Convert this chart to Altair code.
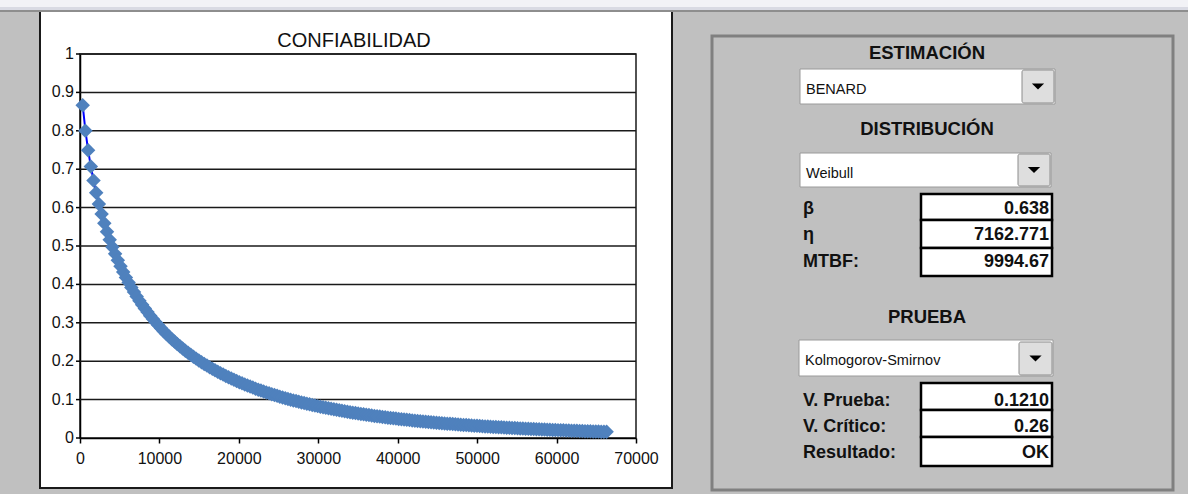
import altair as alt
import pandas as pd

# ---------------- data ----------------
hours = [340, 680, 1020, 1360, 1700, 2040, 2380, 2720, 3060, 3400,
         3740, 4080, 4420, 4760, 5100, 5440, 5780, 6120, 6460, 6800,
         7140, 7480, 7820, 8160, 8500, 8840, 9180, 9520, 9860, 10200,
         10540, 10880, 11220, 11560, 11900, 12240, 12580, 12920, 13260, 13600,
         13940, 14280, 14620, 14960, 15300, 15640, 15980, 16320, 16660, 17000,
         17340, 17680, 18020, 18360, 18700, 19040, 19380, 19720, 20060, 20400,
         20740, 21080, 21420, 21760, 22100, 22440, 22780, 23120, 23460, 23800,
         24140, 24480, 24820, 25160, 25500, 25840, 26180, 26520, 26860, 27200,
         27540, 27880, 28220, 28560, 28900, 29240, 29580, 29920, 30260, 30600,
         30940, 31280, 31620, 31960, 32300, 32640, 32980, 33320, 33660, 34000,
         34340, 34680, 35020, 35360, 35700, 36040, 36380, 36720, 37060, 37400,
         37740, 38080, 38420, 38760, 39100, 39440, 39780, 40120, 40460, 40800,
         41140, 41480, 41820, 42160, 42500, 42840, 43180, 43520, 43860, 44200,
         44540, 44880, 45220, 45560, 45900, 46240, 46580, 46920, 47260, 47600,
         47940, 48280, 48620, 48960, 49300, 49640, 49980, 50320, 50660, 51000,
         51340, 51680, 52020, 52360, 52700, 53040, 53380, 53720, 54060, 54400,
         54740, 55080, 55420, 55760, 56100, 56440, 56780, 57120, 57460, 57800,
         58140, 58480, 58820, 59160, 59500, 59840, 60180, 60520, 60860, 61200,
         61540, 61880, 62220, 62560, 62900, 63240, 63580, 63920, 64260, 64600,
         64940, 65280, 65620, 65960, 66300]
reliability = [0.8667, 0.8004, 0.7495, 0.7072, 0.6707, 0.6384, 0.6095, 0.5832, 0.5592, 0.5370,
               0.5165, 0.4974, 0.4795, 0.4628, 0.4470, 0.4321, 0.4181, 0.4047, 0.3921, 0.3801,
               0.3686, 0.3577, 0.3473, 0.3373, 0.3278, 0.3186, 0.3099, 0.3015, 0.2934, 0.2857,
               0.2782, 0.2710, 0.2641, 0.2574, 0.2510, 0.2447, 0.2388, 0.2329, 0.2274, 0.2219,
               0.2167, 0.2116, 0.2067, 0.2019, 0.1973, 0.1928, 0.1885, 0.1843, 0.1802, 0.1763,
               0.1724, 0.1687, 0.1651, 0.1615, 0.1581, 0.1548, 0.1515, 0.1484, 0.1453, 0.1423,
               0.1395, 0.1366, 0.1338, 0.1312, 0.1285, 0.1259, 0.1235, 0.1210, 0.1186, 0.1164,
               0.1141, 0.1119, 0.1098, 0.1077, 0.1056, 0.1036, 0.1017, 0.0997, 0.0979, 0.0961,
               0.0943, 0.0926, 0.0909, 0.0892, 0.0876, 0.0861, 0.0845, 0.0830, 0.0815, 0.0800,
               0.0786, 0.0773, 0.0759, 0.0746, 0.0733, 0.0720, 0.0708, 0.0695, 0.0683, 0.0672,
               0.0660, 0.0649, 0.0638, 0.0627, 0.0616, 0.0606, 0.0596, 0.0586, 0.0576, 0.0567,
               0.0557, 0.0548, 0.0539, 0.0530, 0.0522, 0.0513, 0.0505, 0.0497, 0.0489, 0.0481,
               0.0473, 0.0466, 0.0458, 0.0451, 0.0444, 0.0437, 0.0430, 0.0424, 0.0417, 0.0411,
               0.0404, 0.0398, 0.0392, 0.0386, 0.0380, 0.0374, 0.0368, 0.0362, 0.0357, 0.0351,
               0.0346, 0.0341, 0.0336, 0.0331, 0.0326, 0.0321, 0.0316, 0.0311, 0.0307, 0.0302,
               0.0298, 0.0293, 0.0289, 0.0285, 0.0281, 0.0277, 0.0273, 0.0269, 0.0265, 0.0261,
               0.0258, 0.0254, 0.0250, 0.0247, 0.0243, 0.0240, 0.0236, 0.0233, 0.0230, 0.0226,
               0.0223, 0.0220, 0.0217, 0.0214, 0.0211, 0.0208, 0.0205, 0.0202, 0.0199, 0.0196,
               0.0193, 0.0191, 0.0188, 0.0186, 0.0183, 0.0181, 0.0178, 0.0176, 0.0173, 0.0171,
               0.0169, 0.0167, 0.0165, 0.0162, 0.0160]
x_ticks = [0, 10000, 20000, 30000, 40000, 50000, 60000, 70000]
y_ticks = [0, 0.1, 0.2, 0.3, 0.4, 0.5, 0.6, 0.7, 0.8, 0.9, 1.0]
y_tick_labels = ["0", "0.1", "0.2", "0.3", "0.4", "0.5", "0.6", "0.7", "0.8", "0.9", "1"]
chart_title = "CONFIABILIDAD"

section_titles = ["ESTIMACIÓN", "DISTRIBUCIÓN", "PRUEBA"]
dropdown_values = ["BENARD", "Weibull", "Kolmogorov-Smirnov"]
param_labels = ["β", "η", "MTBF:"]
param_values = ["0.638", "7162.771", "9994.67"]
test_labels = ["V. Prueba:", "V. Crítico:", "Resultado:"]
test_values = ["0.1210", "0.26", "OK"]

# ---------------- layout (page pixels) ----------------
W, H = 1188, 494
PL, PT, PW, PH = 80, 54, 556, 384
FONT = "Liberation Sans"
INK = "#111111"


def px(x):
    return x - PL


def py(y):
    return y - PT


one = pd.DataFrame({"k": [0]})


def box(x1, y1, x2, y2, **kw):
    return alt.Chart(one).mark_rect(**kw).encode(
        x=alt.value(px(x1)), x2=alt.value(px(x2)),
        y=alt.value(py(y1)), y2=alt.value(py(y2)))


def label(text, x, y, **kw):
    return alt.Chart(pd.DataFrame({"t": [text]})).mark_text(
        font=FONT, color=INK, baseline="alphabetic", **kw).encode(
        x=alt.value(px(x)), y=alt.value(py(y)), text="t:N")


# ---------------- main chart ----------------
df = pd.DataFrame({"hours": hours, "R": reliability})
ytick_df = pd.DataFrame({"v": y_ticks, "lab": y_tick_labels})
grid_df = pd.DataFrame({"g": y_ticks[1:]})

xscale = alt.Scale(domain=[0, 70000], nice=False, zero=False)
yscale = alt.Scale(domain=[0, 1], nice=False)

xenc = alt.X("hours:Q", scale=xscale,
             axis=alt.Axis(values=x_ticks, format="d", grid=False, title=None,
                           tickSize=5, labelPadding=7, labelFlush=False,
                           labelOverlap=False))
yenc = alt.Y("R:Q", scale=yscale,
             axis=alt.Axis(grid=False, title=None, ticks=False, labels=False))

gridlines = alt.Chart(grid_df).mark_rule(color="#1a1a1a", strokeWidth=1.5).encode(
    y=alt.Y("g:Q", scale=yscale), x=alt.value(0), x2=alt.value(PW))
yticks = alt.Chart(ytick_df).mark_rule(color="#000000", strokeWidth=1.5).encode(
    y=alt.Y("v:Q", scale=yscale), x=alt.value(-4), x2=alt.value(0))
ylabels = alt.Chart(ytick_df).mark_text(
    font=FONT, fontSize=16, color=INK, align="right", baseline="middle").encode(
    y=alt.Y("v:Q", scale=yscale), x=alt.value(-6), text="lab:N")

line = alt.Chart(df).mark_line(color="#0000ff", strokeWidth=2).encode(x=xenc, y=yenc)
pts = alt.Chart(df).mark_point(shape="diamond", filled=True, color="#4f81bd",
                               size=210, opacity=1).encode(x="hours:Q", y="R:Q")

layers = [line, gridlines, yticks, ylabels, pts]

# surrounding sheet: gray areas around white chart box
GRAY = "#c0c0c0"
layers += [
    box(0, 11, 40, H, fill=GRAY),
    box(672, 11, W, H, fill=GRAY),
    box(40, 488, 672, H, fill=GRAY),
    box(40, 11, 672, 488, fillOpacity=0, stroke="#1a1a1a", strokeWidth=2),
    box(0, 0, W, 7, fill="#f2f2f6"),
    box(0, 7, W, 10, fill="#d9dae3"),
    box(0, 10, W, 12, fill="#8e8e8e"),
]

layers.append(label(chart_title, 354, 47, align="center", fontSize=20))

# ---------------- right panel ----------------
layers.append(box(712, 36, 1173, 490, fillOpacity=0, stroke="#808080", strokeWidth=3))

title_baselines = [59, 135, 323]
for t, yb in zip(section_titles, title_baselines):
    layers.append(label(t, 927, yb, align="center", fontSize=18.5, fontWeight="bold"))

dd_boxes = [(800, 69, 1055, 104), (800, 153, 1051, 187), (799, 340, 1053, 376)]
dd_buttons = [(1022, 70, 1054, 103), (1018, 154, 1050, 186), (1019, 342, 1052, 375)]
dd_text_y = [94, 178, 365]
for v, b, bt, yb in zip(dropdown_values, dd_boxes, dd_buttons, dd_text_y):
    layers.append(box(*b, fill="white", stroke="#9a9a9a", strokeWidth=1))
    layers.append(box(*bt, fill="#dedede", stroke="#8c8c8c", strokeWidth=1,
                      cornerRadius=2))
    cx = (bt[0] + bt[2]) / 2
    cy = (bt[1] + bt[3]) / 2
    layers.append(alt.Chart(one).mark_point(
        shape="M-1,-0.5L1,-0.5L0,0.5Z", filled=True, color="#000000",
        size=150, opacity=1).encode(x=alt.value(px(cx)), y=alt.value(py(cy))))
    layers.append(label(v, b[0] + 6, yb, align="left", fontSize=14.5))

param_boxes = [(921, 194, 1052, 220), (921, 220, 1052, 248), (921, 248, 1052, 276)]
param_y = [214, 240, 267]
for lab, val, b, yb in zip(param_labels, param_values, param_boxes, param_y):
    layers.append(box(*b, fill="white", stroke="#000000", strokeWidth=2.5))
    layers.append(label(lab, 803, yb, align="left", fontSize=18, fontWeight="bold"))
    layers.append(label(val, 1049, yb, align="right", fontSize=18, fontWeight="bold"))

test_boxes = [(921, 383, 1052, 410), (921, 410, 1052, 437), (921, 437, 1052, 466)]
test_y = [406, 432, 458]
for lab, val, b, yb in zip(test_labels, test_values, test_boxes, test_y):
    layers.append(box(*b, fill="white", stroke="#000000", strokeWidth=2.5))
    layers.append(label(lab, 803, yb, align="left", fontSize=18, fontWeight="bold"))
    layers.append(label(val, 1049, yb, align="right", fontSize=18, fontWeight="bold"))

chart = alt.layer(*layers).properties(
    width=PW, height=PH,
    padding={"left": PL, "top": PT, "right": W - PL - PW, "bottom": H - PT - PH},
    autosize=alt.AutoSizeParams(type="none"),
    background="white",
).configure_view(
    stroke="#1a1a1a", strokeWidth=1.5, fill="white"
).configure_axis(
    domainColor="#000000", domainWidth=1.5, tickColor="#000000", tickWidth=1.5,
    labelFont=FONT, labelFontSize=16, labelColor=INK,
)

chart.save("out.html", embed_options={"renderer": "svg", "actions": False})
